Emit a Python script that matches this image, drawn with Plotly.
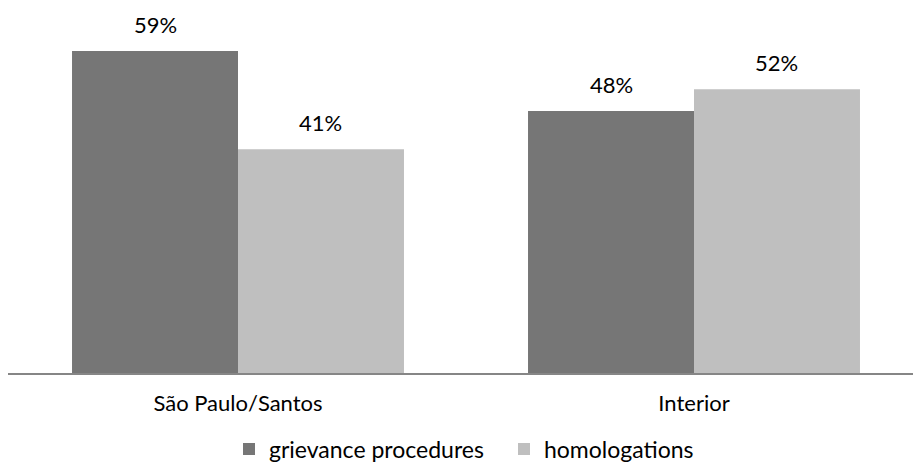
import plotly.graph_objects as go

categories = ["São Paulo/Santos", "Interior"]
grievance = [59, 48]
homologations = [41, 52]
series_names = ["grievance procedures", "homologations"]
colors = ["#767676", "#BFBFBF"]

x = list(range(len(categories)))
FONT = "Lato, Carlito, 'Open Sans', sans-serif"

fig = go.Figure()
for name, vals, col in zip(series_names, [grievance, homologations], colors):
    fig.add_trace(go.Bar(x=x, y=vals, name=name, marker=dict(color=col, line=dict(width=0))))

ann = []
for i in range(len(categories)):
    for j, vals in enumerate([grievance, homologations]):
        ann.append(dict(x=i + (j - 0.5) * 0.364, y=vals[i], xref="x", yref="y",
                        text=f"{vals[i]}%", showarrow=False, yanchor="bottom", yshift=11,
                        font=dict(size=22, color="#000000", family=FONT)))

fig.update_layout(
    width=913, height=464,
    margin=dict(l=8, r=0, t=0, b=91, autoexpand=False),
    plot_bgcolor="white", paper_bgcolor="white",
    barmode="group", bargap=0.272, bargroupgap=0,
    font=dict(family=FONT, size=22, color="#000000"),
    xaxis=dict(range=[-230/456, 1 + 219/456], tickvals=x, ticktext=categories,
               showgrid=False, zeroline=False, showline=True, linecolor="#868686", linewidth=2,
               ticks="", ticklabelstandoff=10, tickfont=dict(size=22, family=FONT),
               automargin=False),
    yaxis=dict(range=[0, 373/5.458], visible=False),
    legend=dict(orientation="h", x=(229-8)/905, xanchor="left", xref="paper",
                y=(464-449)/464, yanchor="middle", yref="container",
                entrywidth=230, entrywidthmode="pixels",
                font=dict(size=23, family=FONT)),
    annotations=ann,
    showlegend=True,
)
fig.write_html("out.html")
